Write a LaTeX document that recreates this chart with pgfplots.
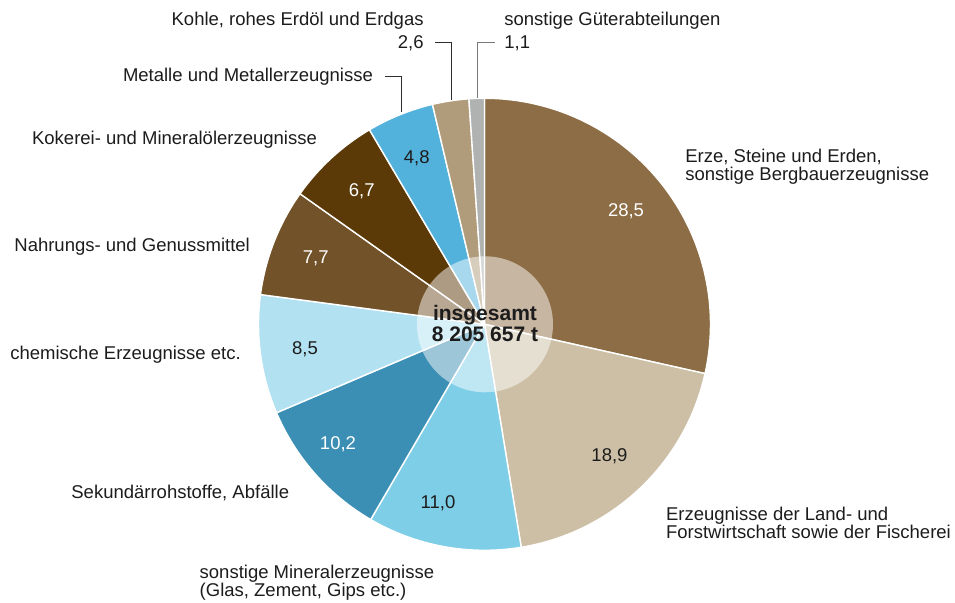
\documentclass[border=0pt]{standalone}
\usepackage{fontspec}
\setmainfont{Liberation Sans}
\usepackage{pgfplots}
\pgfplotsset{compat=1.18}
\usepackage{pgfplotstable}
\definecolor{cErze}{RGB}{141,109,69}
\definecolor{cLand}{RGB}{204,191,165}
\definecolor{cMin}{RGB}{126,206,232}
\definecolor{cSek}{RGB}{60,143,180}
\definecolor{cChem}{RGB}{178,225,242}
\definecolor{cNahr}{RGB}{114,82,40}
\definecolor{cKok}{RGB}{91,58,8}
\definecolor{cMet}{RGB}{82,178,220}
\definecolor{cKohle}{RGB}{176,155,122}
\definecolor{cSonst}{RGB}{176,177,177}
\definecolor{txt}{RGB}{28,28,28}
\definecolor{lineDark}{RGB}{45,45,45}
\definecolor{lineGray}{RGB}{120,120,120}
\newcommand\lf{\fontsize{9.25}{9}\selectfont}
% value, colour, label position (px, y downwards), anchor, text colour
\pgfplotstableread{
v col lx ly anc tc
28.5 cErze 626 216.7 base white
18.9 cLand 609.5 462 base txt
11.0 cMin 438 508.3 base txt
10.2 cSek 338 450 base white
8.5 cChem 305 355 base txt
7.7 cNahr 315.8 263.3 base white
6.7 cKok 361.7 196.7 base white
4.8 cMet 416.7 163.3 base txt
2.6 cKohle 424 48.3 {base east} txt
1.1 cSonst 504 48.3 {base west} txt
}\pietable
\begin{document}
\begin{tikzpicture}
\begin{axis}[x=0.5pt, y=0.5pt, xmin=0, xmax=955, ymin=0, ymax=603,
  y dir=reverse, hide axis, scale only axis, clip=false,
  /pgf/number format/.cd, use comma, fixed, fixed zerofill, precision=1, assume math mode=true]
\pgfplotsextra{
  \pgfplotstablegetrowsof{\pietable}
  \pgfmathtruncatemacro\nrows{\pgfplotsretval-1}
  \gdef\cumsum{0}
  \foreach \i in {0,...,\nrows}{
    \pgfplotstablegetelem{\i}{v}\of\pietable \let\v\pgfplotsretval
    \pgfplotstablegetelem{\i}{col}\of\pietable \let\col\pgfplotsretval
    \pgfmathsetmacro\aone{90-3.6*\cumsum}
    \pgfmathsetmacro\newcum{\cumsum+\v}
    \xdef\cumsum{\newcum}
    \pgfmathsetmacro\atwo{90-3.6*\cumsum}
    \path[fill=\col, draw=white, line width=0.7pt, line join=round]
      (axis cs:484.5,324.3) -- ++(\aone:113pt)
      arc[start angle=\aone, end angle=\atwo, radius=113pt] -- cycle;
  }
  \fill[white, opacity=0.5] (axis cs:485,324.3) circle[radius=34pt];
  \foreach \i in {0,...,\nrows}{
    \pgfplotstablegetelem{\i}{v}\of\pietable \let\v\pgfplotsretval
    \pgfplotstablegetelem{\i}{lx}\of\pietable \let\lx\pgfplotsretval
    \pgfplotstablegetelem{\i}{ly}\of\pietable \let\ly\pgfplotsretval
    \pgfplotstablegetelem{\i}{anc}\of\pietable \let\anc\pgfplotsretval
    \pgfplotstablegetelem{\i}{tc}\of\pietable \let\tc\pgfplotsretval
    \node[anchor=\anc, inner sep=0pt, text=\tc, font=\lf] at (axis cs:\lx,\ly)
      {\pgfmathprintnumber[use comma, fixed, fixed zerofill, precision=1, assume math mode=true]{\v}};
  }
}
% centre text
\node[anchor=base, inner sep=0pt, text=txt, font=\fontsize{10.5}{10.5}\selectfont\bfseries] at (axis cs:485,321) {insgesamt};
\node[anchor=base, inner sep=0pt, text=txt, font=\fontsize{10.5}{10.5}\selectfont\bfseries] at (axis cs:485,342) {8 205 657 t};
% leader lines
\draw[line width=0.65pt, lineDark] (axis cs:385,76.7) -- (axis cs:401.7,76.7) -- (axis cs:401.7,111.7);
\draw[line width=0.65pt, lineDark] (axis cs:435,42.7) -- (axis cs:451.7,42.7) -- (axis cs:451.7,100.5);
\draw[line width=0.65pt, lineGray] (axis cs:494.5,42.7) -- (axis cs:477.7,42.7) -- (axis cs:477.7,98.5);
% category labels
\begin{scope}[every node/.style={inner sep=0pt, text=txt, font=\lf}]
\node[anchor=base east] at (axis cs:424,25.7) {Kohle, rohes Erdöl und Erdgas};
\node[anchor=base west] at (axis cs:504,25.7) {sonstige Güterabteilungen};
\node[anchor=base east] at (axis cs:373.3,81.5) {Metalle und Metallerzeugnisse};
\node[anchor=base west] at (axis cs:31.7,145) {Kokerei- und Mineralölerzeugnisse};
\node[anchor=base west] at (axis cs:14,251.7) {Nahrungs- und Genussmittel};
\node[anchor=base west] at (axis cs:10,360) {chemische Erzeugnisse etc.};
\node[anchor=base west] at (axis cs:71,498.3) {Sekundärrohstoffe, Abfälle};
\node[anchor=base west] at (axis cs:199.3,579) {sonstige Mineralerzeugnisse};
\node[anchor=base west] at (axis cs:199.3,597) {(Glas, Zement, Gips etc.)};
\node[anchor=base west] at (axis cs:685,162.7) {Erze, Steine und Erden,};
\node[anchor=base west] at (axis cs:685,181) {sonstige Bergbauerzeugnisse};
\node[anchor=base west] at (axis cs:665.7,521) {Erzeugnisse der Land- und};
\node[anchor=base west] at (axis cs:665.7,538.3) {Forstwirtschaft sowie der Fischerei};
\end{scope}
\coordinate (bbA) at (axis cs:0,603);
\coordinate (bbB) at (axis cs:955,0);
\end{axis}
\pgfresetboundingbox
\path[use as bounding box] (bbA) rectangle (bbB);
\end{tikzpicture}
\end{document}
